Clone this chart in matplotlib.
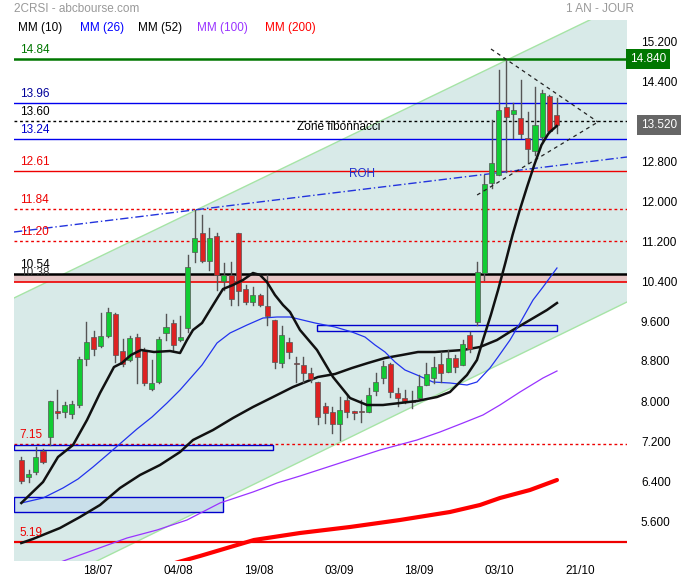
import matplotlib
matplotlib.use('Agg')
import matplotlib.pyplot as plt
from matplotlib.patches import Rectangle

plt.rcParams['font.family'] = ['Liberation Sans', 'DejaVu Sans']

# ---------------- data ----------------
opens = [6.82, 6.48, 6.58, 7.00, 7.28, 7.80, 7.78, 7.74, 7.92, 8.84,
         9.28, 9.10, 9.30, 9.74, 9.00, 8.82, 9.28, 9.00, 8.24, 8.38,
         9.36, 9.56, 9.22, 9.46, 10.98, 11.36, 10.80, 11.30, 10.40, 10.52,
         11.36, 10.24, 9.98, 10.12, 9.90, 9.62, 8.76, 9.18, 8.76, 8.72,
         8.56, 8.38, 7.90, 7.78, 7.54, 8.02, 7.80, 7.80, 7.78, 8.20,
         8.46, 8.74, 8.16, 8.06, 8.00, 8.06, 8.32, 8.46, 8.74, 8.58,
         8.86, 8.72, 9.32, 9.58, 10.56, 12.36, 12.52, 13.88, 13.74, 13.66,
         13.26, 13.00, 13.28, 14.10, 13.72]
highs = [6.88, 6.62, 7.08, 7.04, 8.00, 8.22, 7.98, 8.00, 8.88, 9.58,
         9.40, 9.76, 9.86, 9.76, 9.24, 9.30, 9.34, 9.06, 8.82, 9.28,
         9.74, 9.62, 9.70, 10.92, 11.82, 11.72, 11.46, 11.36, 10.76, 10.78,
         11.36, 10.32, 10.28, 10.14, 10.52, 9.62, 9.50, 9.26, 8.88, 8.88,
         8.66, 8.38, 7.96, 7.88, 8.08, 8.12, 7.80, 8.02, 8.26, 8.56,
         8.80, 8.76, 8.26, 8.22, 8.20, 8.52, 8.76, 8.88, 8.98, 9.02,
         8.92, 9.22, 9.38, 10.78, 12.52, 13.62, 14.62, 14.82, 13.96, 14.42,
         13.78, 14.28, 14.22, 14.12, 14.06]
lows = [6.36, 6.38, 6.54, 6.76, 7.12, 7.66, 7.68, 7.66, 7.88, 8.72,
        8.92, 9.08, 9.28, 8.78, 8.70, 8.80, 8.36, 8.32, 8.22, 8.36,
        9.22, 9.02, 9.20, 9.38, 10.78, 10.78, 10.62, 10.22, 10.22, 9.92,
        9.92, 9.94, 9.92, 9.90, 9.52, 8.66, 8.68, 8.86, 8.38, 8.38,
        8.38, 7.54, 7.56, 7.36, 7.22, 7.68, 7.64, 7.58, 7.78, 8.12,
        8.36, 8.08, 7.90, 7.96, 7.86, 8.06, 8.32, 8.36, 8.38, 8.58,
        8.58, 8.72, 8.98, 9.52, 10.42, 12.26, 12.52, 12.58, 13.26, 13.26,
        12.76, 12.92, 13.22, 13.36, 13.36]
closes = [6.40, 6.54, 6.88, 6.78, 8.00, 7.76, 7.92, 7.94, 8.84, 9.18,
          9.04, 9.30, 9.78, 8.92, 8.74, 9.26, 8.88, 8.36, 8.36, 9.24,
          9.48, 9.12, 9.28, 10.68, 11.26, 10.80, 11.26, 10.52, 10.52, 10.04,
          10.20, 9.98, 10.12, 9.92, 9.70, 8.78, 9.32, 8.98, 8.74, 8.56,
          8.44, 7.68, 7.76, 7.54, 7.82, 7.78, 7.76, 7.78, 8.12, 8.38,
          8.70, 8.18, 8.06, 8.00, 7.98, 8.30, 8.54, 8.68, 8.56, 8.86,
          8.68, 9.14, 9.04, 10.58, 12.34, 12.76, 13.82, 13.68, 13.82, 13.34,
          13.04, 13.52, 14.16, 13.40, 13.52]

ma10_x = [0, 3.0, 5.07, 7.15, 9.08, 10.88, 11.85, 12.81, 13.9, 15.16, 16.55, 18.34,
          20.55, 21.94, 22.9, 23.73, 24.98, 26.08, 27.19, 27.88, 29.26, 30.64, 32.02,
          33.0, 33.95, 35.06, 36.17, 37.14, 38.52, 40.87, 43.08, 45.43, 47.78, 49.99,
          52.34, 54.69, 57.45, 59.25, 61.6, 62.98, 63.81, 64.9, 65.9, 66.9, 67.9,
          68.9, 69.9, 70.9, 71.9, 72.9, 74.0]
ma10_v = [5.96, 6.38, 6.88, 7.12, 7.62, 8.16, 8.42, 8.68, 8.76, 8.92, 9.02, 8.98,
          9.00, 8.96, 9.22, 9.42, 9.56, 9.82, 10.08, 10.24, 10.32, 10.42, 10.56,
          10.52, 10.38, 10.12, 9.92, 9.78, 9.42, 9.02, 8.48, 8.06, 7.92, 7.92,
          7.96, 8.00, 8.08, 8.18, 8.52, 8.82, 9.22, 9.72, 10.22, 10.76, 11.32,
          11.82, 12.28, 12.72, 13.12, 13.36, 13.50]

ma26_x = [0, 3.0, 5.76, 7.84, 9.91, 11.85, 13.92, 15.99, 18.07, 20.14, 21.94, 24.98,
          27.05, 28.85, 31.2, 33.41, 35.34, 37.14, 40.6, 43.36, 45.71, 47.5, 48.89,
          50.27, 51.65, 53.03, 54.69, 56.9, 59.25, 61.6, 62.98, 64.78, 65.89, 67.55,
          68.93, 70.73, 72.11, 74.04]
ma26_v = [5.96, 6.06, 6.26, 6.44, 6.68, 6.92, 7.18, 7.44, 7.68, 7.96, 8.22, 8.72,
          9.16, 9.36, 9.52, 9.66, 9.68, 9.68, 9.56, 9.48, 9.38, 9.28, 9.12,
          8.98, 8.78, 8.62, 8.52, 8.38, 8.36, 8.32, 8.38, 8.66, 8.88, 9.22,
          9.56, 10.02, 10.28, 10.66]

ma52_x = [0, 1.6, 5.35, 8.11, 10.88, 13.64, 16.41, 19.17, 21.94, 23.73, 26.5, 29.26,
          32.02, 34.79, 37.55, 41.0, 43.36, 45.71, 47.92, 50.27, 52.62, 54.83, 57.18,
          61.05, 63.4, 65.75, 67.96, 70.31, 72.66, 74.04]
ma52_v = [5.16, 5.24, 5.46, 5.68, 5.92, 6.26, 6.52, 6.72, 6.98, 7.22, 7.42, 7.66,
          7.88, 8.08, 8.28, 8.48, 8.54, 8.66, 8.76, 8.86, 8.92, 8.98, 8.98,
          9.02, 9.08, 9.22, 9.42, 9.62, 9.82, 9.96]

ma100_x = [4.66, 14.61, 18.76, 22.9, 27.46, 32.02, 35.34, 38.52, 44.05, 49.58, 54.69,
           57.87, 61.05, 63.81, 66.16, 68.93, 72.11, 74.04]
ma100_v = [4.74, 5.26, 5.42, 5.62, 5.96, 6.18, 6.36, 6.50, 6.76, 7.02, 7.22,
           7.38, 7.56, 7.72, 7.92, 8.18, 8.46, 8.60]

ma200_x = [21.24, 24.7, 32.16, 38.52, 45.43, 52.34, 59.25, 63.4, 66.16, 70.31, 74.04]
ma200_v = [4.76, 4.90, 5.22, 5.36, 5.48, 5.62, 5.78, 5.92, 6.06, 6.22, 6.42]

tick_pos = [10.6, 21.7, 32.8, 43.9, 55.0, 66.1, 77.2]
tick_labels = ['18/07', '04/08', '19/08', '03/09', '18/09', '03/10', '21/10']
ytick_vals = [5.6, 6.4, 7.2, 8.0, 8.8, 9.6, 10.4, 11.2, 12.0, 12.8, 13.6, 14.4, 15.2]

chan_x = [-1.01, 83.72]
chan_upper = [10.06, 15.98]
chan_lower = [3.99, 9.98]
roh_x = [-1.01, 83.72]
roh_y = [11.38, 12.88]
tri_upper_x = [64.92, 79.71]
tri_upper_y = [15.04, 13.58]
tri_lower_x = [63.0, 79.71]
tri_lower_y = [12.12, 13.58]

levels = [14.84, 13.96, 13.60, 13.24, 12.61, 11.84, 11.20, 10.54, 10.38, 7.15, 5.19]
level_labels = ['14.84', '13.96', '13.60', '13.24', '12.61', '11.84', '11.20', '10.54', '10.38', '7.15', '5.19']
level_colors = ['#007700', '#000099', '#000000', '#0000cc', '#ee0000', '#ee0000', '#ee0000',
                '#000000', '#333333', '#ee0000', '#ee0000']
level_styles = ['-', '-', (0, (2, 2)), '-', '-', (0, (2, 2)), (0, (2, 2)), '-', '-', (0, (2, 2)), '-']
level_lw = [1.8, 1.0, 1.0, 1.0, 1.0, 1.0, 1.0, 1.8, 1.2, 1.0, 1.6]
level_lc = ['#007700', '#0000ee', '#000000', '#0000ee', '#ee0000', '#ee0000', '#ee0000',
            '#000000', '#ee0000', '#ee0000', '#ee0000']

zones = [(-1.01, 34.8, 7.02, 7.12), (-1.01, 27.9, 5.78, 6.08), (40.9, 74.0, 9.40, 9.52)]
zone_fill = ['none', '#c9dfea', 'none']

last_close = 13.52
res_level = 14.84

# ---------------- figure ----------------
W, H = 684, 580
fig = plt.figure(figsize=(W / 100, H / 100), dpi=100)
ax = fig.add_axes([14 / W, 19 / H, 613 / W, 541 / H])
xmin, xmax = -1.01, 83.72
ymin, ymax = 4.80, 15.62
ax.set_xlim(xmin, xmax)
ax.set_ylim(ymin, ymax)
for s in ax.spines.values():
    s.set_visible(False)

# channel
ax.fill_between(chan_x, chan_lower, chan_upper, color='#d8eae8', zorder=0, lw=0)
ax.plot(chan_x, chan_upper, color='#a6e4a6', lw=1, zorder=1)
ax.plot(chan_x, chan_lower, color='#a6e4a6', lw=1, zorder=1)

# red band between 10.38 and 10.54
ax.add_patch(Rectangle((xmin, 10.38), xmax - xmin, 0.16, facecolor='#e6c6c6',
                       edgecolor='none', zorder=2))

# horizontal levels
for lv, lab, c, ls, lw, lc in zip(levels, level_labels, level_colors, level_styles,
                                  level_lw, level_lc):
    ax.plot([xmin, xmax], [lv, lv], color=lc, ls=ls, lw=lw, zorder=3)
    ax.annotate(lab, (xmin, lv), xytext=(4, 2), textcoords='offset points',
                color=c, fontsize=8.5, ha='left', va='bottom', zorder=6)

# zones
for (x0, x1, y0, y1), fc in zip(zones, zone_fill):
    ax.add_patch(Rectangle((x0, y0), x1 - x0, y1 - y0, facecolor=fc,
                           edgecolor='#0000cc', lw=1, zorder=3))

# ROH
ax.plot(roh_x, roh_y, color='#2233dd', lw=1, ls=(0, (6, 2, 1, 2)), zorder=3)
ax.text(47.1, 12.54, 'ROH', color='#2233cc', fontsize=8.5, ha='center', va='center', zorder=6)
ax.text(43.8, 13.47, 'Zone fibonnacci', color='#000000', fontsize=8.5, ha='center',
        va='center', zorder=6)

# triangle
ax.plot(tri_upper_x, tri_upper_y, color='#222222', lw=0.9, ls=(0, (3, 3)), zorder=7)
ax.plot(tri_lower_x, tri_lower_y, color='#222222', lw=0.9, ls=(0, (3, 3)), zorder=7)

# moving averages
ax.plot(ma200_x, ma200_v, color='#ff0000', lw=3, zorder=4, solid_capstyle='round')
ax.plot(ma100_x, ma100_v, color='#9933ff', lw=0.9, zorder=4)
ax.plot(ma52_x, ma52_v, color='#111111', lw=1.8, zorder=4)
ax.plot(ma26_x, ma26_v, color='#2233ee', lw=0.9, zorder=4)
ax.plot(ma10_x, ma10_v, color='#111111', lw=1.8, zorder=8)

# candles
for i, (o, h, l, c) in enumerate(zip(opens, highs, lows, closes)):
    ax.plot([i, i], [l, h], color='#555555', lw=1, zorder=5)
    up = c >= o
    col = '#11cc33' if up else '#dd2222'
    bottom = min(o, c)
    height = max(abs(c - o), 0.03)
    ax.add_patch(Rectangle((i - 0.35, bottom), 0.7, height, facecolor=col,
                           edgecolor='#555555', lw=0.5, zorder=6))

# axes ticks
ax.set_xticks(tick_pos)
ax.set_xticklabels(tick_labels, fontsize=8.5)
ax.tick_params(axis='x', length=0, pad=3)
ax.yaxis.tick_right()
ax.set_yticks(ytick_vals)
ax.set_yticklabels(['%.3f' % v for v in ytick_vals], fontsize=8.5)
ax.tick_params(axis='y', length=0, pad=10)

# right value boxes
ax.annotate('%.3f' % res_level, (xmax, res_level), xytext=(2, 0), textcoords='offset points',
            color='white', fontsize=8.5, ha='left', va='center', annotation_clip=False,
            bbox=dict(boxstyle='square,pad=0.3', fc='#007700', ec='none'), zorder=10)
ax.annotate('%.3f' % last_close, (xmax, last_close), xytext=(10, 0), textcoords='offset points',
            color='white', fontsize=8.5, ha='left', va='center', annotation_clip=False,
            bbox=dict(boxstyle='square,pad=0.3', fc='#666666', ec='none'), zorder=10)

# header texts
fig.text(14 / W, 1 - 9 / H, '2CRSI - abcbourse.com', color='#999999', fontsize=8.5,
         ha='left', va='center')
fig.text(634 / W, 1 - 9 / H, '1 AN - JOUR', color='#999999', fontsize=8.5,
         ha='right', va='center')
legend_items = [('MM (10)', '#000000', 18), ('MM (26)', '#0000ff', 80), ('MM (52)', '#000000', 138),
                ('MM (100)', '#9933ff', 197), ('MM (200)', '#ff0000', 265)]
for lab, col, px in legend_items:
    fig.text(px / W, 1 - 28 / H, lab, color=col, fontsize=8.5, ha='left', va='center')

fig.savefig('out.png', dpi=100)
